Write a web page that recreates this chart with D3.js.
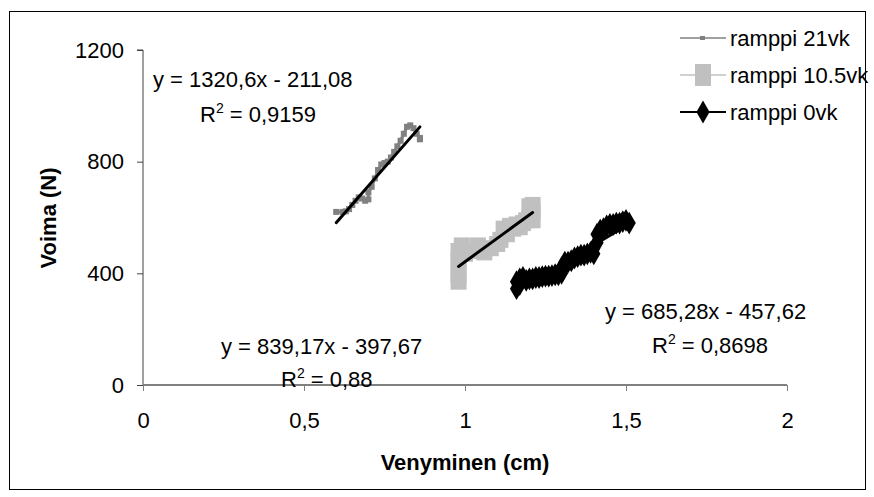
<!DOCTYPE html>
<html>
<head>
<meta charset="utf-8">
<script src="https://cdn.jsdelivr.net/npm/d3@7"></script>
<style>
  body { margin: 0; background: #fff; }
  svg text { font-family: Arial, "Liberation Sans", sans-serif; }
</style>
</head>
<body>
<svg width="874" height="497"></svg>
<script>
// Data
const x21 = [0.60,0.62,0.63,0.64,0.65,0.66,0.67,0.68,0.69,0.70,0.70,0.71,0.72,0.73,0.74,0.75,0.76,0.77,0.78,0.79,0.80,0.81,0.82,0.83,0.84,0.85,0.86,0.86];
const y21 = [620,620,622,630,645,660,672,668,660,665,690,710,740,770,790,795,800,815,835,855,875,900,925,930,920,900,885,880];

const x105 = [0.98,0.98,0.98,0.98,0.98,0.99,1.00,1.02,1.04,1.06,1.08,1.10,1.11,1.12,1.13,1.14,1.15,1.16,1.17,1.18,1.19,1.20,1.21,1.21,1.20,1.21];
const y105 = [370,395,420,450,480,500,470,480,500,475,490,505,520,560,540,570,560,575,565,580,590,600,620,645,640,590];

const x0 = [1.16,1.16,1.17,1.17,1.18,1.19,1.20,1.21,1.22,1.23,1.24,1.25,1.26,1.27,1.28,1.29,1.30,1.30,1.31,1.31,1.32,1.33,1.34,1.35,1.36,1.37,1.38,1.39,1.40,1.40,1.41,1.41,1.42,1.42,1.43,1.44,1.45,1.46,1.47,1.48,1.49,1.50,1.51];
const y0 = [370,345,360,380,385,375,380,380,385,385,388,390,390,392,395,395,400,420,440,430,440,445,455,460,465,465,470,475,470,490,510,540,545,555,560,570,575,575,580,580,585,590,580];

const seriesNames = ["ramppi 21vk", "ramppi 10.5vk", "ramppi 0vk"];

// trend lines: slope, intercept, x range
const trendSlope = [1320.6, 839.17, 685.28];
const trendIntercept = [-211.08, -397.67, -457.62];
const trendFrom = [0.60, 0.98, 1.16];
const trendTo = [0.86, 1.21, 1.51];
const trendText = ["y = 1320,6x - 211,08", "y = 839,17x - 397,67", "y = 685,28x - 457,62"];
const r2Text = ["0,9159", "0,88", "0,8698"];

const xTicks = [0, 0.5, 1, 1.5, 2];
const yTicks = [0, 400, 800, 1200];

const svg = d3.select("svg");
const font = 22;

// outer frame
svg.append("rect")
  .attr("x", 9.5).attr("y", 11.5)
  .attr("width", 856).attr("height", 478)
  .attr("fill", "none").attr("stroke", "#000");

// Scales
const x = d3.scaleLinear().domain([0, 2]).range([143, 787]);
const y = d3.scaleLinear().domain([0, 1200]).range([385, 50]);

// Axes
const yAxis = svg.append("g")
  .attr("transform", "translate(143,0)")
  .call(d3.axisLeft(y).tickValues(yTicks).tickSize(6).tickPadding(13).tickFormat(d => d));
yAxis.select(".domain").attr("stroke", "#404040").attr("d", `M-6,${y(1200)}H0V${y(0)}`);
yAxis.selectAll(".tick line").attr("stroke", "#404040");

const xAxis = svg.append("g")
  .attr("transform", "translate(0,385)")
  .call(d3.axisBottom(x).tickValues(xTicks).tickSize(6).tickPadding(21)
    .tickFormat(d => String(d).replace(".", ",")));
xAxis.select(".domain").attr("stroke", "#808080").attr("stroke-width", 2).attr("d", `M${x(0)},0H${x(2)}`);
xAxis.selectAll(".tick line").attr("stroke", "#808080");

svg.selectAll(".tick text").attr("font-size", font).attr("fill", "#000")
  .style("font-family", "Arial, 'Liberation Sans', sans-serif");

// Axis titles
svg.append("text")
  .attr("x", x(1)).attr("y", 470)
  .attr("text-anchor", "middle")
  .attr("font-size", font).attr("font-weight", "bold")
  .text("Venyminen (cm)");

svg.append("text")
  .attr("transform", "translate(56,218) rotate(-90)")
  .attr("text-anchor", "middle")
  .attr("font-size", font).attr("font-weight", "bold")
  .text("Voima (N)");

const line = d3.line().x(d => x(d[0])).y(d => y(d[1]));

// series 21vk
const d21 = x21.map((v, i) => [v, y21[i]]);
svg.append("path").datum(d21).attr("d", line)
  .attr("fill", "none").attr("stroke", "#808080").attr("stroke-width", 3);
svg.append("g").selectAll("rect").data(d21).enter().append("rect")
  .attr("x", d => x(d[0]) - 3).attr("y", d => y(d[1]) - 3)
  .attr("width", 6).attr("height", 6).attr("fill", "#808080");

// series 10.5vk
const d105 = x105.map((v, i) => [v, y105[i]]);
svg.append("path").datum(d105).attr("d", line)
  .attr("fill", "none").attr("stroke", "#c0c0c0").attr("stroke-width", 2);
svg.append("g").selectAll("rect").data(d105).enter().append("rect")
  .attr("x", d => x(d[0]) - 8).attr("y", d => y(d[1]) - 8)
  .attr("width", 16).attr("height", 16).attr("fill", "#c0c0c0");

// series 0vk
const d0 = x0.map((v, i) => [v, y0[i]]);
const diamond = d3.symbol().type(d3.symbolDiamond).size(150);
svg.append("path").datum(d0).attr("d", line)
  .attr("fill", "none").attr("stroke", "#000").attr("stroke-width", 5);
svg.append("g").selectAll("path").data(d0).enter().append("path")
  .attr("d", diamond)
  .attr("transform", d => `translate(${x(d[0])},${y(d[1])})`)
  .attr("fill", "#000");

// trend lines
trendSlope.forEach((m, i) => {
  const pts = [trendFrom[i], trendTo[i]].map(v => [v, m * v + trendIntercept[i]]);
  svg.append("path").datum(pts).attr("d", line)
    .attr("stroke", "#000").attr("stroke-width", 3).attr("stroke-linecap", "round");
});

// trend labels
const eqPos = [[153, 87], [221, 354], [605, 319]];
const r2Pos = [[200, 122], [281, 387], [652, 353]];
trendText.forEach((t, i) => {
  svg.append("text").attr("x", eqPos[i][0]).attr("y", eqPos[i][1])
    .attr("font-size", font).text(t);
  const r = svg.append("text").attr("x", r2Pos[i][0]).attr("y", r2Pos[i][1])
    .attr("font-size", font);
  r.append("tspan").text("R");
  r.append("tspan").attr("font-size", 14).attr("dy", -9).text("2");
  r.append("tspan").attr("dy", 9).text(" = " + r2Text[i]);
});

// legend
const legY = [38, 75, 112];
const leg = svg.append("g");
seriesNames.forEach((name, i) => {
  const g = leg.append("g").attr("transform", `translate(0,${legY[i]})`);
  const col = ["#808080", "#c0c0c0", "#000"][i];
  g.append("line").attr("x1", 680).attr("x2", 726)
    .attr("stroke", col).attr("stroke-width", i === 2 ? 2 : 1.5);
  if (i === 0) g.append("rect").attr("x", 700).attr("y", -2).attr("width", 5).attr("height", 4).attr("fill", col);
  if (i === 1) g.append("rect").attr("x", 695).attr("y", -11).attr("width", 16).attr("height", 22).attr("fill", col);
  if (i === 2) g.append("path").attr("d", diamond).attr("transform", "translate(703,0)").attr("fill", col);
  g.append("text").attr("x", 730).attr("y", 8).attr("font-size", font).text(name);
});
</script>
</body>
</html>
